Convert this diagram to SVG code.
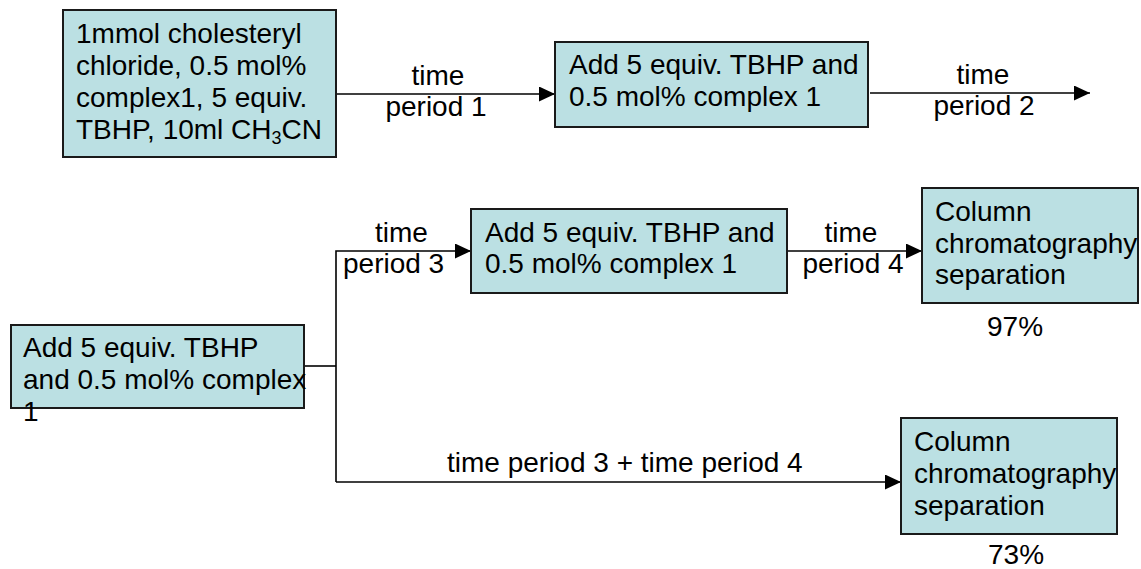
<svg xmlns="http://www.w3.org/2000/svg" width="1141" height="569" viewBox="0 0 1141 569">
<style>
.box{fill:#BBE0E3;stroke:#1a1a1a;stroke-width:2}
text{font-family:"Liberation Sans",Arial,sans-serif;font-size:28px;fill:#000}
.conn{fill:none;stroke:#000;stroke-width:1.6}
</style>
<defs>
<marker id="arr" markerUnits="userSpaceOnUse" markerWidth="16" markerHeight="15" refX="16" refY="7.5" orient="auto">
<path d="M0,0 L16,7.5 L0,15 z" fill="#000"/>
</marker>
</defs>
<rect width="1141" height="569" fill="#fff"/>
<g id="connectors">
<line class="conn" x1="336" y1="94" x2="555" y2="94" marker-end="url(#arr)"/>
<line class="conn" x1="870" y1="93" x2="1090" y2="93" marker-end="url(#arr)"/>
<polyline class="conn" points="304,366 336,366"/>
<polyline class="conn" points="336,482 336,251 471,251" marker-end="url(#arr)"/>
<line class="conn" x1="336" y1="482" x2="901" y2="482" marker-end="url(#arr)"/>
<line class="conn" x1="787" y1="251" x2="922" y2="251" marker-end="url(#arr)"/>
<text x="438" y="85" text-anchor="middle">time</text>
<text x="436" y="116" text-anchor="middle">period 1</text>
<text x="983" y="84" text-anchor="middle">time</text>
<text x="984" y="115" text-anchor="middle">period 2</text>
<text x="375" y="242">time</text>
<text x="343" y="273">period 3</text>
<text x="851" y="242" text-anchor="middle">time</text>
<text x="853" y="273" text-anchor="middle">period 4</text>
<text x="447" y="472">time period 3 + time period 4</text>
</g>
<g id="n1">
<rect class="box" x="63" y="10" width="273" height="147"/>
<text x="76" y="43">1mmol cholesteryl</text>
<text x="76" y="75">chloride, 0.5 mol%</text>
<text x="76" y="107">complex1, 5 equiv.</text>
<text x="76" y="139">TBHP, 10ml CH<tspan font-size="18" dy="5">3</tspan><tspan dy="-5">CN</tspan></text>
</g>
<g id="n2">
<rect class="box" x="555" y="42" width="313" height="85"/>
<text x="569" y="74">Add 5 equiv. TBHP and</text>
<text x="569" y="106">0.5 mol% complex 1</text>
</g>
<g id="n3">
<rect class="box" x="471" y="209" width="316" height="84"/>
<text x="485" y="242">Add 5 equiv. TBHP and</text>
<text x="485" y="273">0.5 mol% complex 1</text>
</g>
<g id="n4">
<rect class="box" x="922" y="188" width="216" height="115"/>
<text x="935" y="221">Column</text>
<text x="935" y="253">chromatography</text>
<text x="935" y="284">separation</text>
<text x="987" y="336">97%</text>
</g>
<g id="n5">
<rect class="box" x="11" y="325" width="293" height="83"/>
<text x="23" y="357">Add 5 equiv. TBHP</text>
<text x="23" y="389">and 0.5 mol% complex</text>
<text x="23" y="421">1</text>
</g>
<g id="n6">
<rect class="box" x="901" y="418" width="216" height="116"/>
<text x="914" y="451">Column</text>
<text x="914" y="483">chromatography</text>
<text x="914" y="515">separation</text>
<text x="988" y="564">73%</text>
</g>
</svg>
